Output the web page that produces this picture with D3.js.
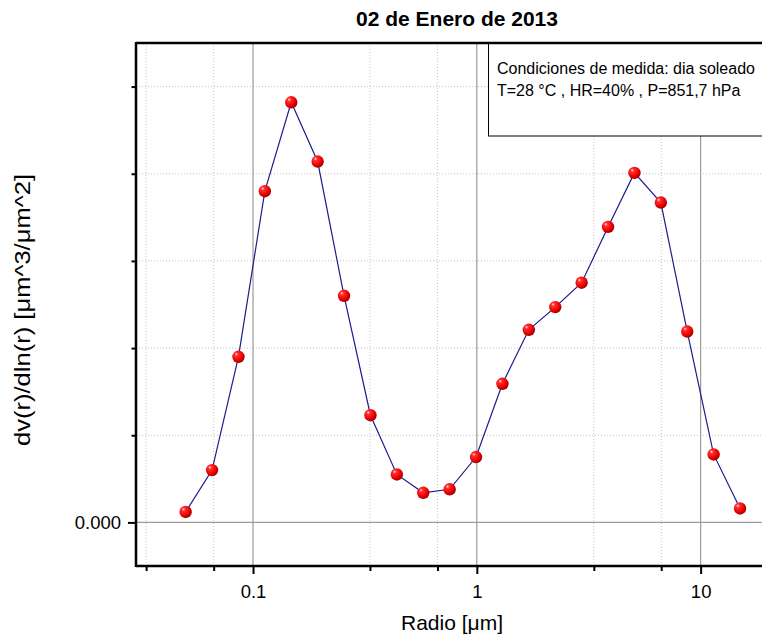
<!DOCTYPE html>
<html>
<head>
<meta charset="utf-8">
<script src="https://cdn.jsdelivr.net/npm/d3@7"></script>
<style>
  body { margin: 0; background: #fff; }
  text { font-family: "Liberation Sans", Arial, sans-serif; }
</style>
</head>
<body>
<svg id="chart" width="762" height="640"></svg>
<script>
// radii of the size bins (um) and volume distribution
var radius = [0.05, 0.065604, 0.086077, 0.112939, 0.148184, 0.194429, 0.255105, 0.334716, 0.439173, 0.576227, 0.756052,
              0.991996, 1.301571, 1.707757, 2.240702, 2.939966, 3.857452, 5.06126, 6.640745, 8.713145, 11.432287, 15.0];
var dv = [0.0012, 0.0060, 0.0190, 0.0380, 0.0482, 0.0414, 0.0260, 0.0123, 0.0055, 0.0034, 0.0038,
          0.0075, 0.0159, 0.0221, 0.0247, 0.0275, 0.0339, 0.0401, 0.0367, 0.0219, 0.0078, 0.0016];

var xMajor = [0.1, 1, 10];
var xMajorLabels = ["0.1", "1", "10"];
var xMinor = [0.0333, 0.0667, 0.333, 0.667, 3.333, 6.667];
var yMajor = [0];
var yMinor = [0.01, 0.02, 0.03, 0.04, 0.05];

var titleText = "02 de Enero de 2013";
var legendLines = ["Condiciones de medida: dia soleado", "T=28 \u00B0C , HR=40% , P=851,7 hPa"];

var pLeft = 136, pRight = 768, pTop = 43, pBottom = 566;

var svg = d3.select("#chart");

var x = d3.scaleLog().domain([0.03, 20]).range([pLeft, pRight]);
var y = d3.scaleLinear().domain([-0.005, 0.055]).range([pBottom, pTop]);

//#region GRID
var grid = svg.append("g").attr("id", "grid");

grid.selectAll(".vMinor").data(xMinor).enter().append("line")
    .style("stroke", "#c4c4c4")
    .style("stroke-width", "1px")
    .style("stroke-dasharray", "1,2")
    .attr("x1", d => x(d)).attr("x2", d => x(d))
    .attr("y1", pTop).attr("y2", pBottom)

grid.selectAll(".hMinor").data(yMinor).enter().append("line")
    .style("stroke", "#c4c4c4")
    .style("stroke-width", "1px")
    .style("stroke-dasharray", "1,2")
    .attr("x1", pLeft).attr("x2", pRight)
    .attr("y1", d => y(d)).attr("y2", d => y(d))

grid.selectAll(".vMajor").data(xMajor).enter().append("line")
    .style("stroke", "#9a9a9a")
    .style("stroke-width", "1.2px")
    .attr("x1", d => x(d)).attr("x2", d => x(d))
    .attr("y1", pTop).attr("y2", pBottom)

grid.selectAll(".hMajor").data(yMajor).enter().append("line")
    .style("stroke", "#9a9a9a")
    .style("stroke-width", "1.2px")
    .attr("x1", pLeft).attr("x2", pRight)
    .attr("y1", d => y(d)).attr("y2", d => y(d))

//#region LEGEND BOX
var legend = svg.append("g").attr("id", "legend");
legend.append("rect")
    .attr("x", 488.5).attr("y", pTop)
    .attr("width", 300).attr("height", 136 - pTop)
    .style("fill", "#fff")
    .style("stroke", "#000")
    .style("stroke-width", "1px")

legend.selectAll("text").data(legendLines).enter().append("text")
    .attr("x", 497)
    .attr("y", (d, i) => 74 + i * 21.7)
    .style("font-size", "16px")
    .style("fill", "#000")
    .text(d => d)

//#region DATA
var pts = radius.map((r, i) => [r, dv[i]]);

var defs = svg.append("defs");
var grad = defs.append("radialGradient").attr("id", "ball")
    .attr("cx", "38%").attr("cy", "35%").attr("r", "65%")
    .attr("fx", "32%").attr("fy", "28%");
grad.append("stop").attr("offset", "0%").attr("stop-color", "#ffe6e6");
grad.append("stop").attr("offset", "22%").attr("stop-color", "#ff3030");
grad.append("stop").attr("offset", "70%").attr("stop-color", "#f00000");
grad.append("stop").attr("offset", "100%").attr("stop-color", "#a00000");

svg.append("path")
    .datum(pts)
    .attr("d", d3.line().x(d => x(d[0])).y(d => y(d[1])))
    .style("fill", "none")
    .style("stroke", "#1c1c8e")
    .style("stroke-width", "1.2px")

svg.append("g").selectAll("circle").data(pts).enter().append("circle")
    .attr("cx", d => x(d[0]))
    .attr("cy", d => y(d[1]))
    .attr("r", 6.2)
    .style("fill", "url(#ball)")

//#region AXES
var xAxisMajor = svg.append("g")
    .attr("transform", `translate(0,${pBottom})`)
    .call(d3.axisBottom(x).tickValues(xMajor).tickSize(8).tickPadding(11)
        .tickFormat((d, i) => xMajorLabels[i]));
var xAxisMinor = svg.append("g")
    .attr("transform", `translate(0,${pBottom})`)
    .call(d3.axisBottom(x).tickValues(xMinor).tickSize(5).tickFormat(""));

var yAxisMajor = svg.append("g")
    .attr("transform", `translate(${pLeft},0)`)
    .call(d3.axisLeft(y).tickValues(yMajor).tickSize(8).tickPadding(7)
        .tickFormat(d3.format(".3f")));
var yAxisMinor = svg.append("g")
    .attr("transform", `translate(${pLeft},0)`)
    .call(d3.axisLeft(y).tickValues(yMinor).tickSize(4.5).tickFormat(""));

[xAxisMajor, xAxisMinor, yAxisMajor, yAxisMinor].forEach(function(ax){
    ax.select(".domain").remove();
    ax.attr("font-size", null).attr("font-family", null);
    ax.selectAll(".tick line").style("stroke", "#000").style("stroke-width", "2px");
    ax.selectAll(".tick text")
        .style("font-size", "18.5px")
        .style("fill", "#000");
});

// frame lines
svg.append("line")
    .attr("x1", pLeft).attr("x2", pRight).attr("y1", pBottom).attr("y2", pBottom)
    .style("stroke", "#000").style("stroke-width", "2.5px")
svg.append("line")
    .attr("x1", pLeft).attr("x2", pLeft).attr("y1", pTop - 1).attr("y2", pBottom + 1)
    .style("stroke", "#000").style("stroke-width", "2.5px")
svg.append("line")
    .attr("x1", pLeft).attr("x2", pRight).attr("y1", pTop).attr("y2", pTop)
    .style("stroke", "#000").style("stroke-width", "2.5px")

//#region TITLES
svg.append("text")
    .attr("x", 457).attr("y", 26)
    .attr("text-anchor", "middle")
    .style("font-size", "21px")
    .style("font-weight", "bold")
    .text(titleText)

svg.append("text")
    .attr("x", 452).attr("y", 630)
    .attr("text-anchor", "middle")
    .style("font-size", "21px")
    .text("Radio [\u03BCm]")

svg.append("text")
    .attr("transform", "translate(30,446) rotate(-90)")
    .attr("text-anchor", "start")
    .attr("textLength", 272)
    .attr("lengthAdjust", "spacingAndGlyphs")
    .style("font-size", "22.5px")
    .text("dv(r)/dln(r) [\u03BCm^3/\u03BCm^2]")
</script>
</body>
</html>
